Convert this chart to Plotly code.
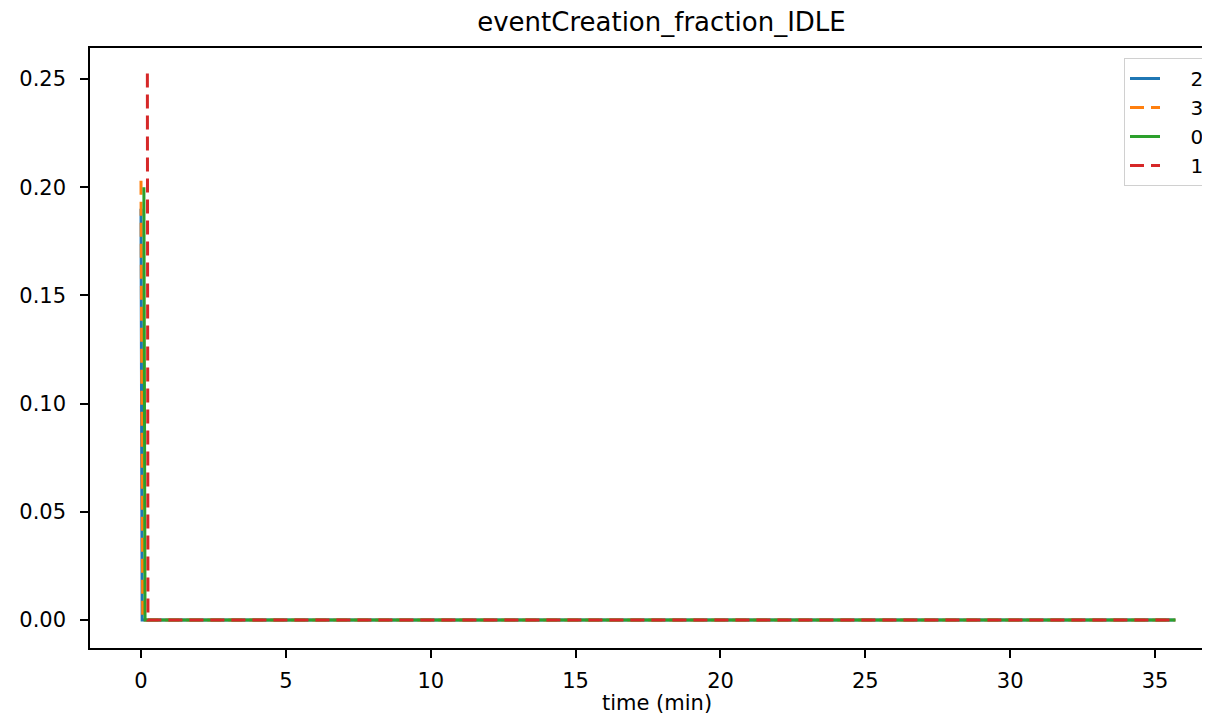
import plotly.graph_objects as go

# ==========================
# DATA
# ==========================

labels = ["2", "3", "0", "1"]

time_2 = [0.0, 0.04, 35.7]
idle_2 = [0.19, 0.0, 0.0]

time_3 = [0.0, 0.06, 35.7]
idle_3 = [0.203, 0.0, 0.0]

time_0 = [0.1, 0.14, 35.7]
idle_0 = [0.2, 0.0, 0.0]

time_1 = [0.22, 0.24, 35.7]
idle_1 = [0.2525, 0.0, 0.0]

x_ticks = [0, 5, 10, 15, 20, 25, 30, 35]
y_ticks = [0.0, 0.05, 0.10, 0.15, 0.20, 0.25]

# ==========================
# STYLE
# ==========================

series = [
    (labels[0], time_2, idle_2, "#1f77b4", "solid"),
    (labels[1], time_3, idle_3, "#ff7f0e", "14px,7px"),
    (labels[2], time_0, idle_0, "#2ca02c", "solid"),
    (labels[3], time_1, idle_1, "#d62728", "14px,7px"),
]

fig = go.Figure()

for name, t, v, color, dash in series:
    fig.add_trace(go.Scatter(
        # leading spaces push the legend text right, like the matplotlib handle
        x=t, y=v, name="\u00a0" * 4 + name, mode="lines",
        line=dict(color=color, width=3, dash=dash),
    ))

# page body adds an 8px offset, so the figure is 8px smaller than the window
fig.update_layout(
    width=1202,
    height=708,
    template="plotly_white",
    font=dict(family="DejaVu Sans", size=21, color="black"),
    title=dict(text="eventCreation_fraction_IDLE", x=(662 - 90) / 1120,
               xref="paper", xanchor="center", y=1 - 14 / 708,
               yref="container", yanchor="middle", font=dict(size=26)),
    margin=dict(l=82, r=0, t=40, b=68),
    plot_bgcolor="white",
    paper_bgcolor="white",
    legend=dict(
        x=(1125 - 90) / 1120, y=(648 - 58) / 600,
        xanchor="left", yanchor="top",
        bgcolor="white", bordercolor="#d0d0d0", borderwidth=1,
        font=dict(size=20),
    ),
)

# x axis title as an annotation so it sits where matplotlib put it
fig.add_annotation(
    text="time (min)", xref="paper", yref="paper",
    x=(658 - 90) / 1120, y=-(703 - 648) / 600,
    xanchor="center", yanchor="middle", showarrow=False,
    font=dict(size=21),
)

fig.update_xaxes(
    range=[-1.76, 36.86],
    tickvals=x_ticks,
    tickfont=dict(size=21),
    ticks="outside", ticklen=8, tickwidth=1.5, tickcolor="black",
    ticklabelstandoff=5,
    showline=True, linecolor="black", linewidth=1.5, mirror=True,
    showgrid=False, zeroline=False,
)

fig.update_yaxes(
    range=[-0.0129, 0.2643],
    tickvals=y_ticks,
    tickformat=".2f",
    tickfont=dict(size=21),
    ticks="outside", ticklen=8, tickwidth=1.5, tickcolor="black",
    ticklabelstandoff=10,
    showline=True, linecolor="black", linewidth=1.5,
    showgrid=False, zeroline=False,
)

fig.write_html("out.html")
